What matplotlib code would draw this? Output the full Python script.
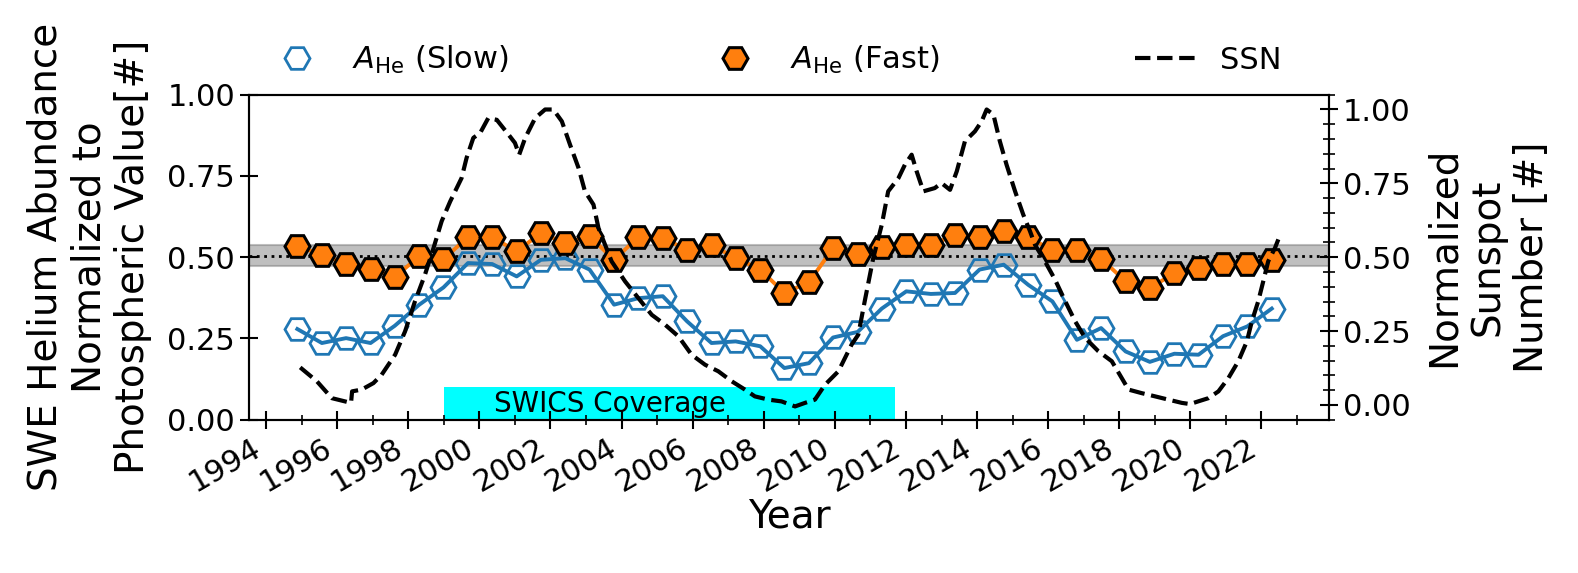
import matplotlib
matplotlib.use("Agg")
import matplotlib.pyplot as plt
from matplotlib.ticker import MultipleLocator, FormatStrFormatter
from matplotlib.lines import Line2D

# bin centres (decimal year) of the SWE helium abundance points
years = [1994.88, 1995.57, 1996.25, 1996.94, 1997.62, 1998.31, 1998.99, 1999.68,
         2000.36, 2001.05, 2001.73, 2002.42, 2003.10, 2003.79, 2004.47, 2005.16,
         2005.84, 2006.53, 2007.21, 2007.90, 2008.58, 2009.27, 2009.95, 2010.64,
         2011.32, 2012.01, 2012.70, 2013.38, 2014.07, 2014.75, 2015.44, 2016.12,
         2016.81, 2017.49, 2018.18, 2018.86, 2019.55, 2020.23, 2020.92, 2021.60,
         2022.29]

ahe_slow = [0.279, 0.236, 0.251, 0.236, 0.289, 0.354, 0.407, 0.482, 0.479, 0.441,
            0.492, 0.497, 0.462, 0.354, 0.374, 0.380, 0.303, 0.236, 0.241, 0.226,
            0.159, 0.174, 0.253, 0.270, 0.342, 0.395, 0.387, 0.390, 0.462, 0.477,
            0.415, 0.364, 0.246, 0.282, 0.210, 0.178, 0.203, 0.200, 0.257, 0.287,
            0.342]

ahe_fast = [0.534, 0.508, 0.479, 0.465, 0.439, 0.503, 0.494, 0.562, 0.562, 0.518,
            0.574, 0.544, 0.564, 0.492, 0.562, 0.559, 0.523, 0.537, 0.498, 0.462,
            0.390, 0.423, 0.528, 0.511, 0.530, 0.539, 0.537, 0.569, 0.561, 0.582,
            0.562, 0.521, 0.523, 0.495, 0.426, 0.405, 0.451, 0.467, 0.480, 0.480,
            0.490]

# normalized (smoothed) sunspot number
ssn_year = [1994.96, 1995.43, 1995.85, 1996.22, 1996.39, 1996.42, 1996.69, 1997.02,
            1997.25, 1997.63, 1997.91, 1998.19, 1998.47, 1998.71, 1998.94, 1999.18,
            1999.50, 1999.64, 1999.83, 2000.02, 2000.25, 2000.49, 2000.82, 2001.00,
            2001.12, 2001.29, 2001.57, 2001.85, 2002.08, 2002.32, 2002.55, 2002.79,
            2002.97, 2003.21, 2003.35, 2003.72, 2004.10, 2004.47, 2004.85, 2005.22,
            2005.60, 2005.97, 2006.35, 2006.72, 2007.10, 2007.47, 2007.75, 2008.13,
            2008.50, 2008.88, 2009.16, 2009.44, 2009.72, 2010.10, 2010.47, 2010.66,
            2010.84, 2011.08, 2011.32, 2011.50, 2011.79, 2011.97, 2012.16, 2012.30,
            2012.49, 2012.81, 2013.00, 2013.24, 2013.43, 2013.66, 2013.94, 2014.13,
            2014.27, 2014.46, 2014.64, 2014.83, 2015.07, 2015.30, 2015.49, 2015.63,
            2015.91, 2016.19, 2016.48, 2016.76, 2017.04, 2017.41, 2017.79, 2018.07,
            2018.26, 2018.63, 2019.01, 2019.38, 2019.76, 2019.99, 2020.22, 2020.51,
            2020.79, 2021.07, 2021.35, 2021.59, 2021.73, 2021.91, 2022.05, 2022.19,
            2022.38, 2022.49]
ssn_norm = [0.127, 0.080, 0.023, 0.012, 0.007, 0.046, 0.052, 0.074,
            0.102, 0.170, 0.249, 0.351, 0.441, 0.531, 0.622, 0.689,
            0.768, 0.836, 0.904, 0.920, 0.971, 0.965, 0.915, 0.887,
            0.847, 0.904, 0.971, 1.000, 1.000, 0.960, 0.881, 0.802,
            0.723, 0.678, 0.599, 0.486, 0.418, 0.362, 0.305, 0.272,
            0.232, 0.170, 0.136, 0.114, 0.080, 0.052, 0.029, 0.018,
            0.012, -0.005, 0.007, 0.018, 0.068, 0.114, 0.204, 0.238,
            0.351, 0.497, 0.610, 0.723, 0.768, 0.813, 0.847, 0.791,
            0.723, 0.734, 0.751, 0.728, 0.791, 0.893, 0.926, 0.960,
            1.000, 0.983, 0.893, 0.813, 0.723, 0.644, 0.588, 0.542,
            0.486, 0.425, 0.351, 0.283, 0.227, 0.182, 0.148, 0.091,
            0.052, 0.040, 0.029, 0.018, 0.007, 0.003, 0.012, 0.023,
            0.046, 0.091, 0.148, 0.215, 0.283, 0.351, 0.418, 0.486,
            0.531, 0.565]

photo_mean = 0.505
photo_band = (0.474, 0.537)
swics_start, swics_end = 1999.0, 2011.69

blue = "#1f77b4"
orange = "#ff7f0e"

fig = plt.figure(figsize=(15.78, 5.73), dpi=100)
ax = fig.add_axes([0.1578, 0.2675, 0.6844, 0.5672])

ax.axhspan(photo_band[0], photo_band[1], color="gray", alpha=0.5, lw=1.5, zorder=1)
ax.axhline(photo_mean, color="k", ls=":", lw=2, zorder=1.5)
ax.fill_between([swics_start, swics_end], 0, 0.1, color="cyan", lw=0, zorder=1)
ax.text(swics_start + 1.4, 0.048, "SWICS Coverage", fontsize=20, va="center", zorder=1.6)

ax.plot(years, ahe_slow, color=blue, lw=2.8, zorder=2)
ax.plot(years, ahe_slow, ls="none", marker="H", ms=18, mfc="none", mec=blue, mew=2, zorder=2)
ax.plot(years, ahe_fast, color=orange, lw=2.8, zorder=3)
ax.plot(years, ahe_fast, ls="none", marker="H", ms=18, mfc=orange, mec="k", mew=2.2, zorder=3)

ax.set_xlim(1993.52, 2023.9)
ax.set_ylim(0, 1)
ax.set_yticks([0, 0.25, 0.5, 0.75, 1.0])
ax.yaxis.set_major_formatter(FormatStrFormatter("%.2f"))
ax.xaxis.set_major_locator(MultipleLocator(2))
ax.xaxis.set_minor_locator(MultipleLocator(1))
ax.xaxis.set_major_formatter(FormatStrFormatter("%d"))
ax.tick_params(axis="both", which="major", direction="inout", length=13, width=1.5, labelsize=22)
ax.tick_params(axis="x", which="minor", direction="inout", length=7, width=1.2)
for lab in ax.get_xticklabels():
    lab.set_rotation(30)
    lab.set_ha("right")
ax.set_xlabel("Year", fontsize=28, labelpad=0)
ax.set_ylabel("SWE Helium Abundance\nNormalized to\nPhotospheric Value[#]", fontsize=28, labelpad=11)

ax2 = ax.twinx()
ax2.plot(ssn_year, ssn_norm, "k--", lw=3)
ax2.set_ylim(-0.05, 1.05)
ax2.set_yticks([0, 0.25, 0.5, 0.75, 1.0])
ax2.yaxis.set_minor_locator(MultipleLocator(0.05))
ax2.yaxis.set_major_formatter(FormatStrFormatter("%.2f"))
ax2.tick_params(axis="y", which="major", direction="inout", length=13, width=1.5, labelsize=22)
ax2.tick_params(axis="y", which="minor", direction="inout", length=9, width=1.2)
ax2.set_ylabel("Normalized\nSunspot\nNumber [#]", fontsize=28, labelpad=10)

for a in (ax, ax2):
    for s in a.spines.values():
        s.set_linewidth(1.5)

handles = [
    Line2D([], [], ls="none", marker="H", ms=18, mfc="none", mec=blue, mew=2),
    Line2D([], [], ls="none", marker="H", ms=18, mfc=orange, mec="k", mew=2.2),
    Line2D([], [], color="k", ls="--", lw=3),
]
labels = [r"$A_{\rm He}$ (Slow)", r"$A_{\rm He}$ (Fast)", "SSN"]
fig.legend(handles, labels, loc="center", bbox_to_anchor=(0.1686, 0.865, 0.6438, 0.06),
           mode="expand", ncol=3, frameon=False, fontsize=22, borderpad=0, borderaxespad=0)

fig.savefig("out.png", dpi=100)
